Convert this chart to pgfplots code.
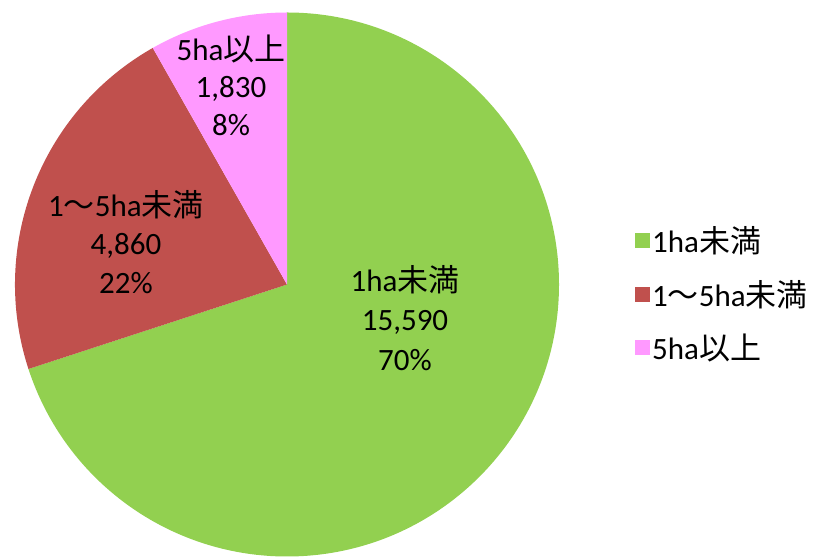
\documentclass[border=0pt]{standalone}
\usepackage{pgfplots}
\pgfplotsset{compat=1.18}
\usepackage{pgfplotstable}
\usepackage{fontspec}
\setmainfont{Carlito}
\newfontfamily\cjk{Noto Sans CJK JP}
\definecolor{cgreen}{HTML}{92D050}
\definecolor{cred}{HTML}{C0504D}
\definecolor{cpink}{HTML}{FF99FF}
\pgfplotstableread{
label value
small 15590
mid 4860
large 1830
}\piedata
\pgfplotstablegetelem{0}{value}\of\piedata \let\va\pgfplotsretval
\pgfplotstablegetelem{1}{value}\of\piedata \let\vb\pgfplotsretval
\pgfplotstablegetelem{2}{value}\of\piedata \let\vc\pgfplotsretval
\pgfmathsetmacro{\tot}{\va/1000+\vb/1000+\vc/1000}
\pgfmathsetmacro{\aA}{90}
\pgfmathsetmacro{\aB}{90-360*(\va/1000)/\tot}
\pgfmathsetmacro{\aC}{\aB-360*(\vb/1000)/\tot}
\pgfmathsetmacro{\aD}{\aC-360*(\vc/1000)/\tot}
\begin{document}
\begin{tikzpicture}
\begin{axis}[
  scale only axis, width=823bp, height=559bp,
  xmin=0, xmax=823, ymin=0, ymax=559,
  hide axis, clip=false,
  legend style={at={(axis cs:632,265)}, anchor=west, draw=none, fill=none,
    font=\fontsize{31bp}{34bp}\selectfont, row sep=22bp,
    /tikz/every even column/.append style={column sep=6bp}},
  legend cell align=left,
  legend image code/.code={\path[#1,draw=none] (0bp,-7.5bp) rectangle (15bp,7.5bp);},
]
\fill[cgreen] (axis cs:287,274.5) -- ++(\aA:272bp) arc[start angle=\aA, end angle=\aB, radius=272bp] -- cycle;
\fill[cred] (axis cs:287,274.5) -- ++(\aB:272bp) arc[start angle=\aB, end angle=\aC, radius=272bp] -- cycle;
\fill[cpink] (axis cs:287,274.5) -- ++(\aC:272bp) arc[start angle=\aC, end angle=\aD, radius=272bp] -- cycle;
\addlegendimage{fill=cgreen}
\addlegendentry{1ha{\cjk 未満}}
\addlegendimage{fill=cred}
\addlegendentry{1{\cjk ～}5ha{\cjk 未満}}
\addlegendimage{fill=cpink}
\addlegendentry{5ha{\cjk 以上}}
\node[align=center, font=\fontsize{31bp}{39.5bp}\selectfont, color=black] at (axis cs:405,241) {1ha{\cjk 未満}\\15,590\\70\%};
\node[align=center, font=\fontsize{31bp}{38.5bp}\selectfont, color=black] at (axis cs:126,317) {1{\cjk ～}5ha{\cjk 未満}\\4,860\\22\%};
\node[align=center, font=\fontsize{31bp}{37.5bp}\selectfont, color=black] at (axis cs:231,474) {5ha{\cjk 以上}\\1,830\\8\%};
\coordinate (LL) at (axis cs:0,0);
\coordinate (UR) at (axis cs:823,559);
\end{axis}
\pgfresetboundingbox
\path (LL) rectangle (UR);
\end{tikzpicture}
\end{document}
